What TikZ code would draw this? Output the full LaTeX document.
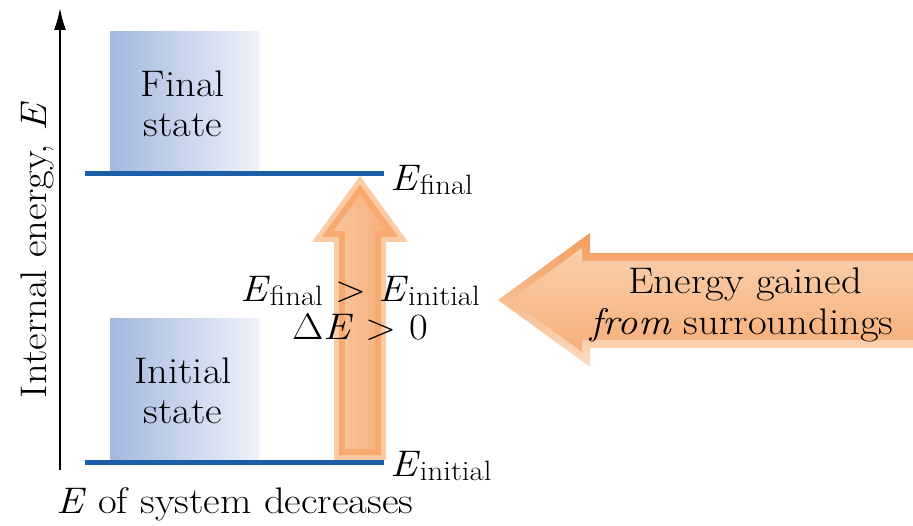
\documentclass[tikz,border=0pt]{standalone}
\usetikzlibrary{arrows.meta}
\definecolor{lineblue}{HTML}{1C5EA8}
\definecolor{boxL}{HTML}{A3B8DE}
\definecolor{boxR}{HTML}{EEF2FA}
\definecolor{vA}{HTML}{FBCBA4}
\definecolor{vB}{HTML}{F7A96F}
\definecolor{vCl}{HTML}{F9C49C}
\definecolor{vCr}{HTML}{F7B07B}
\definecolor{hAt}{HTML}{F39C5A}
\definecolor{hAb}{HTML}{FCDCC2}
\definecolor{hBt}{HTML}{FAD0AE}
\definecolor{hBb}{HTML}{F6AE78}
\newcommand{\mywide}[1]{\scalebox{1.1}[1]{#1}}
\newcommand{\mysub}[1]{\raisebox{-4pt}{\fontsize{28}{28}\selectfont #1}}
\begin{document}
\begin{tikzpicture}[x=1pt,y=-1pt,
  txt/.style={font=\fontsize{37}{40}\selectfont, inner sep=0pt, align=center},
  statebox/.style={minimum width=149pt, minimum height=142pt, inner sep=0pt, left color=boxL, right color=boxR, draw=none},
  level/.style={draw=lineblue, line width=5pt},
  axis/.style={draw=black, line width=1.8pt, -{Latex[length=22pt,width=12pt]}}]
\useasboundingbox (0,0) rectangle (913,526);
% state boxes
\node[statebox] (finalbox) at (184.5,103) {};
\node[statebox] (initbox) at (184.5,390) {};
% vertical orange arrow (layers)
\fill[vA] (360,176) -- (408,242) -- (386,242) -- (386,460) -- (334,460) -- (334,242) -- (312,242) -- cycle;
\fill[vB] (360,184.5) -- (398.2,237) -- (381,237) -- (381,455) -- (339,455) -- (339,237) -- (321.8,237) -- cycle;
\shade[left color=vCl, right color=vCr] (360,194.7) -- (386.4,231) -- (375,231) -- (375,449) -- (345,449) -- (345,231) -- (333.6,231) -- cycle;
% horizontal orange arrow (layers)
\shade[top color=hAt, bottom color=hAb] (498,300) -- (590,233) -- (590,253) -- (913,253) -- (913,348) -- (590,348) -- (590,367) -- cycle;
\shade[top color=hBt, bottom color=hBb] (511,300) -- (582,248) -- (582,261) -- (913,261) -- (913,340) -- (582,340) -- (582,352) -- cycle;
% axis
\coordinate (axb) at (60,470);
\coordinate (axt) at (60,8);
\draw[axis] (axb) -- (axt);
% levels
\coordinate (f1) at (85,174);
\coordinate (f2) at (384,174);
\coordinate (i1) at (85,462);
\coordinate (i2) at (384,462);
\draw[level] (f1) -- (f2);
\draw[level] (i1) -- (i2);
% texts
\node[txt] (finaltxt) at (183,104) {\mywide{Final}\\\mywide{state}};
\node[txt] (inittxt) at (183,391) {\mywide{Initial}\\\mywide{state}};
\node[txt, rotate=90] (axlabel) at (37,250) {\mywide{Internal energy, \textit{E}}};
\node[txt, anchor=base west] (sysdec) at (56,513) {\mywide{\textit{E} of system decreases}};
\node[txt, anchor=base west] (efinal) at (390,191) {\mywide{\textit{E}\mysub{final}}};
\node[txt, anchor=base west] (einit) at (390,476) {\mywide{\textit{E}\mysub{initial}}};
\node[txt, anchor=base] (ineq) at (360,302) {\mywide{\textit{E}\mysub{final} > \textit{E}\mysub{initial}}};
\node[txt, anchor=base] (dE) at (360,340) {\mywide{Δ\textit{E} > 0}};
\node[txt, anchor=base] (gain1) at (745,294) {\mywide{Energy gained}};
\node[txt, anchor=base] (gain2) at (742,335) {\mywide{\textit{from} surroundings}};
\end{tikzpicture}
\end{document}
